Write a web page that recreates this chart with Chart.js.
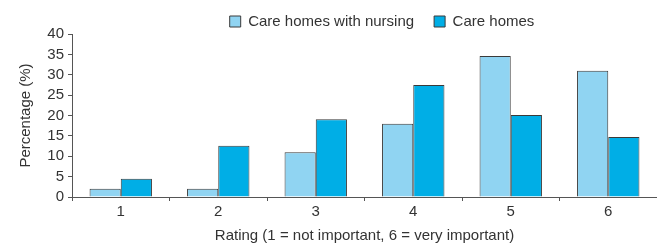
<!DOCTYPE html>
<html>
<head>
<meta charset="utf-8">
<script src="https://cdn.jsdelivr.net/npm/chart.js@4"></script>
<style>
  html, body { margin: 0; padding: 0; background: #fff; }
  #wrap { width: 657px; height: 245px; }
</style>
</head>
<body>
<div id="wrap"><canvas id="ratingChart"></canvas></div>
<script>
// Ratings (1 = not important, 6 = very important)
var ratings = ['1', '2', '3', '4', '5', '6'];
var nursingHomes = [2, 2, 11, 18, 34.6, 31];
var careHomes = [4.5, 12.6, 19.1, 27.5, 20.1, 14.7];
var yTicks = [0, 5, 10, 15, 20, 25, 30, 35, 40];

var textColor = '#333';
var font = { family: 'Liberation Sans, Arial, sans-serif', size: 15 };

// legend sits a bit right of centre and is shorter than its item gap would make it
var legendTweak = {
    id: 'legendTweak',
    beforeLayout: function(chart) {
        var lg = chart.legend;
        if (lg && !lg._tweaked) {
            var fit = lg.fit.bind(lg);
            lg.fit = function() { fit(); this.height = 40; };
            lg._tweaked = true;
        }
    },
    afterLayout: function(chart) {
        chart.legend.left += 45;
        chart.legend.right += 45;
    }
};

var ctx = document.getElementById('ratingChart').getContext('2d');
var myChart = new Chart(ctx, {
    type: 'bar',
    data: {
        labels: ratings,
        datasets: [{
            label: 'Care homes with nursing',
            data: nursingHomes,
            backgroundColor: '#90d4f2',
            borderColor: '#3a3a3a',
            borderWidth: 1,
            categoryPercentage: 0.64,
            barPercentage: 1
        }, {
            label: 'Care homes',
            data: careHomes,
            backgroundColor: '#00aee6',
            borderColor: '#3a3a3a',
            borderWidth: 1,
            categoryPercentage: 0.64,
            barPercentage: 1
        }]
    },
    plugins: [legendTweak],
    options: {
        responsive: true,
        maintainAspectRatio: false,
        animation: false,
        layout: { padding: { left: 17, right: 0, top: -6, bottom: 0 } },
        plugins: {
            legend: {
                position: 'top',
                labels: {
                    color: textColor,
                    font: font,
                    boxWidth: 11,
                    boxHeight: 11,
                    padding: 20
                }
            },
            tooltip: { enabled: false }
        },
        scales: {
            x: {
                afterFit: function(scale) { scale.height = 48; },
                grid: {
                    drawOnChartArea: false,
                    drawTicks: true,
                    tickLength: 4,
                    color: '#555'
                },
                border: { color: '#555', width: 1 },
                ticks: { color: textColor, font: font, padding: 2 },
                title: {
                    display: true,
                    text: 'Rating (1 = not important, 6 = very important)',
                    color: textColor,
                    font: font,
                    padding: { top: 3, bottom: 0 }
                }
            },
            y: {
                min: 0,
                max: 40,
                afterFit: function(scale) { scale.width = 55; },
                afterBuildTicks: function(scale) {
                    scale.ticks = yTicks.map(v => ({ value: v }));
                },
                grid: {
                    drawOnChartArea: false,
                    drawTicks: true,
                    tickLength: 4,
                    color: '#555'
                },
                border: { color: '#555', width: 1 },
                ticks: { color: textColor, font: font, padding: 4, autoSkip: false },
                title: {
                    display: true,
                    text: 'Percentage (%)',
                    color: textColor,
                    font: font,
                    padding: { top: 0, bottom: 4 }
                }
            }
        }
    }
});
</script>
</body>
</html>
